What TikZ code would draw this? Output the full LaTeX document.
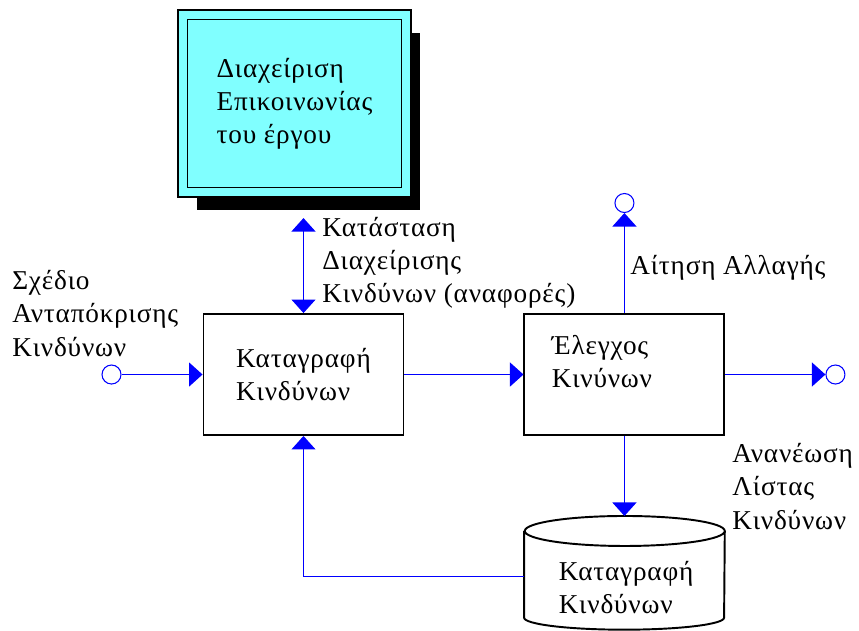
\documentclass[tikz,border=0pt]{standalone}
\usepackage{fontspec}
\setmainfont[LetterSpace=3]{Liberation Serif}
\usetikzlibrary{positioning}
\usetikzlibrary{calc}
\usetikzlibrary{arrows.meta}
\usetikzlibrary{shadows}
\definecolor{panelcyan}{RGB}{128,255,255}
\definecolor{flowblue}{RGB}{0,0,255}
\tikzset{
b/.style={
  rectangle,
  draw=black,
  line width=1.1pt,
  minimum width=4cm,
  minimum height=2.42cm,
  align=left,
  inner sep=0pt,
  fill=white
  },
p/.style={
  circle,
  draw=flowblue,
  line width=0.6pt,
  minimum size=0.38cm,
  inner sep=0pt
  },
t/.style={
  align=left,
  inner sep=0pt
  },
f/.style={
  ->,
  flowblue,
  line width=0.7pt
  }
}

\begin{document}
\begin{tikzpicture}[>={Triangle[length=0.27cm,width=0.48cm]},font=\fontsize{15.5}{18.8}\selectfont]
            \useasboundingbox (0,0) rectangle (17.18,-12.6);
            \node[b,fill=panelcyan,double=panelcyan,double distance=0.155cm,line width=0.9pt,minimum width=4.47cm,minimum height=3.55cm,
                  general shadow={fill=black,shadow xshift=0.28cm,shadow yshift=-0.36cm}] (mgmt) at (5.89,-2.07) {Διαχείριση\\Επικοινωνίας\\του έργου};
            \node[b] (rec) at (6.07,-7.49) {Καταγραφή\\Κινδύνων};
            \node[b] (check) [right=2.38cm of rec] {};
            \node[t,anchor=west] (checktext) at ([xshift=0.56cm,yshift=0.25cm]check.west) {Έλεγχος\\Κινύνων};
            \node[minimum width=4cm,minimum height=2.26cm,inner sep=0pt] (log) [below=1.6cm of check] {};
            \draw[line width=1.1pt] ([yshift=-0.3cm]log.north west) -- ([yshift=0.24cm]log.south west)
              arc[start angle=180,end angle=360,x radius=2cm,y radius=0.24cm] -- ([yshift=-0.3cm]log.north east)
              arc[start angle=0,end angle=360,x radius=2cm,y radius=0.3cm];
            \node[t,anchor=west] (logtext) at ([xshift=-1.32cm,yshift=-0.3cm]log.center) {Καταγραφή\\Κινδύνων};
            % ports
            \node[p] (in) [left=1.62cm of rec] {};
            \node[p] (out) [right=2cm of check] {};
            \node[p] (chg) [above=2cm of check] {};
            % labels
            \node[t,anchor=west] (status) at (6.44,-5.25) {Κατάσταση\\Διαχείρισης\\Κινδύνων (αναφορές)};
            \node[t,anchor=west] (plan) at (0.24,-6.27) {Σχέδιο\\Ανταπόκρισης\\Κινδύνων};
            \node[t,anchor=west] (req) at (12.6,-5.36) {Αίτηση Αλλαγής};
            \node[t,anchor=west] (upd) at (14.64,-9.73) {Ανανέωση\\Λίστας\\Κινδύνων};
            \path[f]
            (in) edge [] node {} (rec)
            (rec) edge [] node {} (check)
            (check) edge [] node {} (out)
            (check) edge [] node {} (chg)
            (check) edge [] node {} (log)
            ;
            \draw[f] ([yshift=-0.07cm]log.west) -| (rec.south);
            \draw[f,<->,shorten <=0.5cm] (rec.north |- mgmt.south) -- (rec.north);
        \end{tikzpicture}
\end{document}
